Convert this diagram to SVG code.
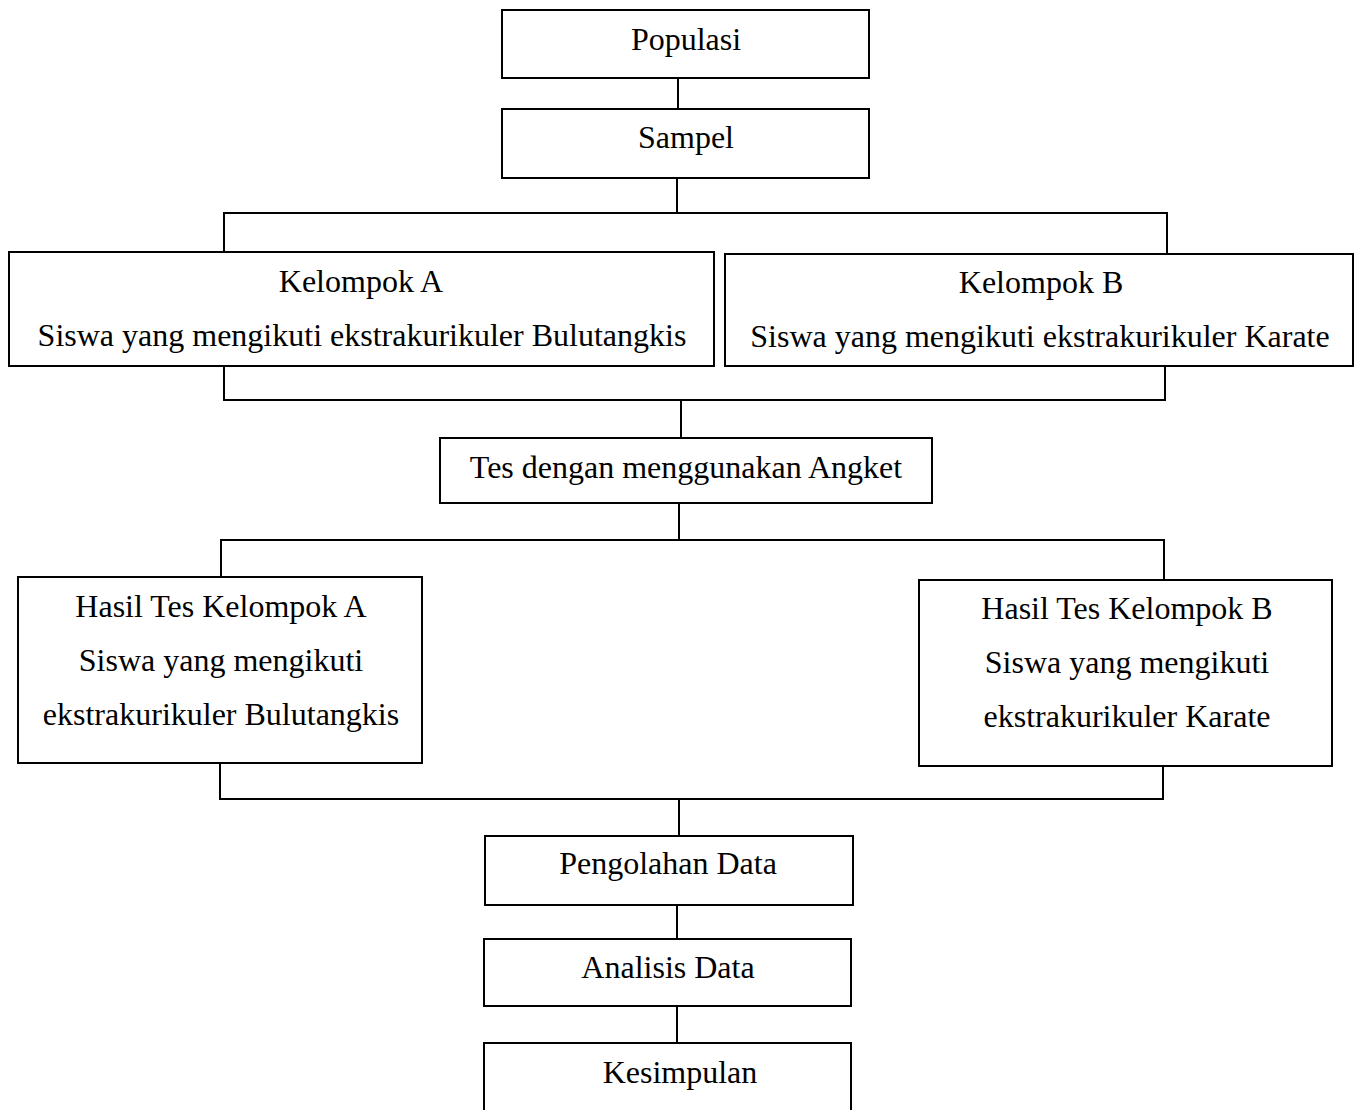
<svg xmlns="http://www.w3.org/2000/svg" width="1358" height="1110" viewBox="0 0 1358 1110">
<style>
.box{fill:#fff;stroke:#000;stroke-width:2}
.ln{fill:none;stroke:#000;stroke-width:2}
text{font-family:"Liberation Serif","Times New Roman",serif;font-size:32px;fill:#000;text-anchor:middle}
</style>
<rect width="1358" height="1110" fill="#fff"/>
<g id="connectors">
<line class="ln" x1="678" y1="78" x2="678" y2="109"/>
<line class="ln" x1="677" y1="178" x2="677" y2="213"/>
<polyline class="ln" points="224,252 224,213 1167,213 1167,254"/>
<polyline class="ln" points="224,366 224,400 1165,400 1165,366"/>
<line class="ln" x1="681" y1="400" x2="681" y2="438"/>
<line class="ln" x1="679" y1="503" x2="679" y2="540"/>
<polyline class="ln" points="221,577 221,540 1164,540 1164,580"/>
<polyline class="ln" points="220,763 220,799 1163,799 1163,766"/>
<line class="ln" x1="679" y1="799" x2="679" y2="836"/>
<line class="ln" x1="677" y1="905" x2="677" y2="939"/>
<line class="ln" x1="677" y1="1006" x2="677" y2="1043"/>
</g>
<g id="populasi"><rect class="box" x="502" y="10" width="367" height="68"/><text x="686" y="50">Populasi</text></g>
<g id="sampel"><rect class="box" x="502" y="109" width="367" height="69"/><text x="686" y="148">Sampel</text></g>
<g id="kelompok-a"><rect class="box" x="9" y="252" width="705" height="114"/><text x="361" y="292">Kelompok A</text><text x="362" y="346">Siswa yang mengikuti ekstrakurikuler Bulutangkis</text></g>
<g id="kelompok-b"><rect class="box" x="725" y="254" width="628" height="112"/><text x="1041" y="293">Kelompok B</text><text x="1040" y="347">Siswa yang mengikuti ekstrakurikuler Karate</text></g>
<g id="tes"><rect class="box" x="440" y="438" width="492" height="65"/><text x="686" y="478">Tes dengan menggunakan Angket</text></g>
<g id="hasil-a"><rect class="box" x="18" y="577" width="404" height="186"/><text x="221" y="617">Hasil Tes Kelompok A</text><text x="221" y="671">Siswa yang mengikuti</text><text x="221" y="725">ekstrakurikuler Bulutangkis</text></g>
<g id="hasil-b"><rect class="box" x="919" y="580" width="413" height="186"/><text x="1127" y="619">Hasil Tes Kelompok B</text><text x="1127" y="673">Siswa yang mengikuti</text><text x="1127" y="727">ekstrakurikuler Karate</text></g>
<g id="pengolahan"><rect class="box" x="485" y="836" width="368" height="69"/><text x="668" y="874">Pengolahan Data</text></g>
<g id="analisis"><rect class="box" x="484" y="939" width="367" height="67"/><text x="668" y="978">Analisis Data</text></g>
<g id="kesimpulan"><rect class="box" x="484" y="1043" width="367" height="80"/><text x="680" y="1083">Kesimpulan</text></g>
</svg>
